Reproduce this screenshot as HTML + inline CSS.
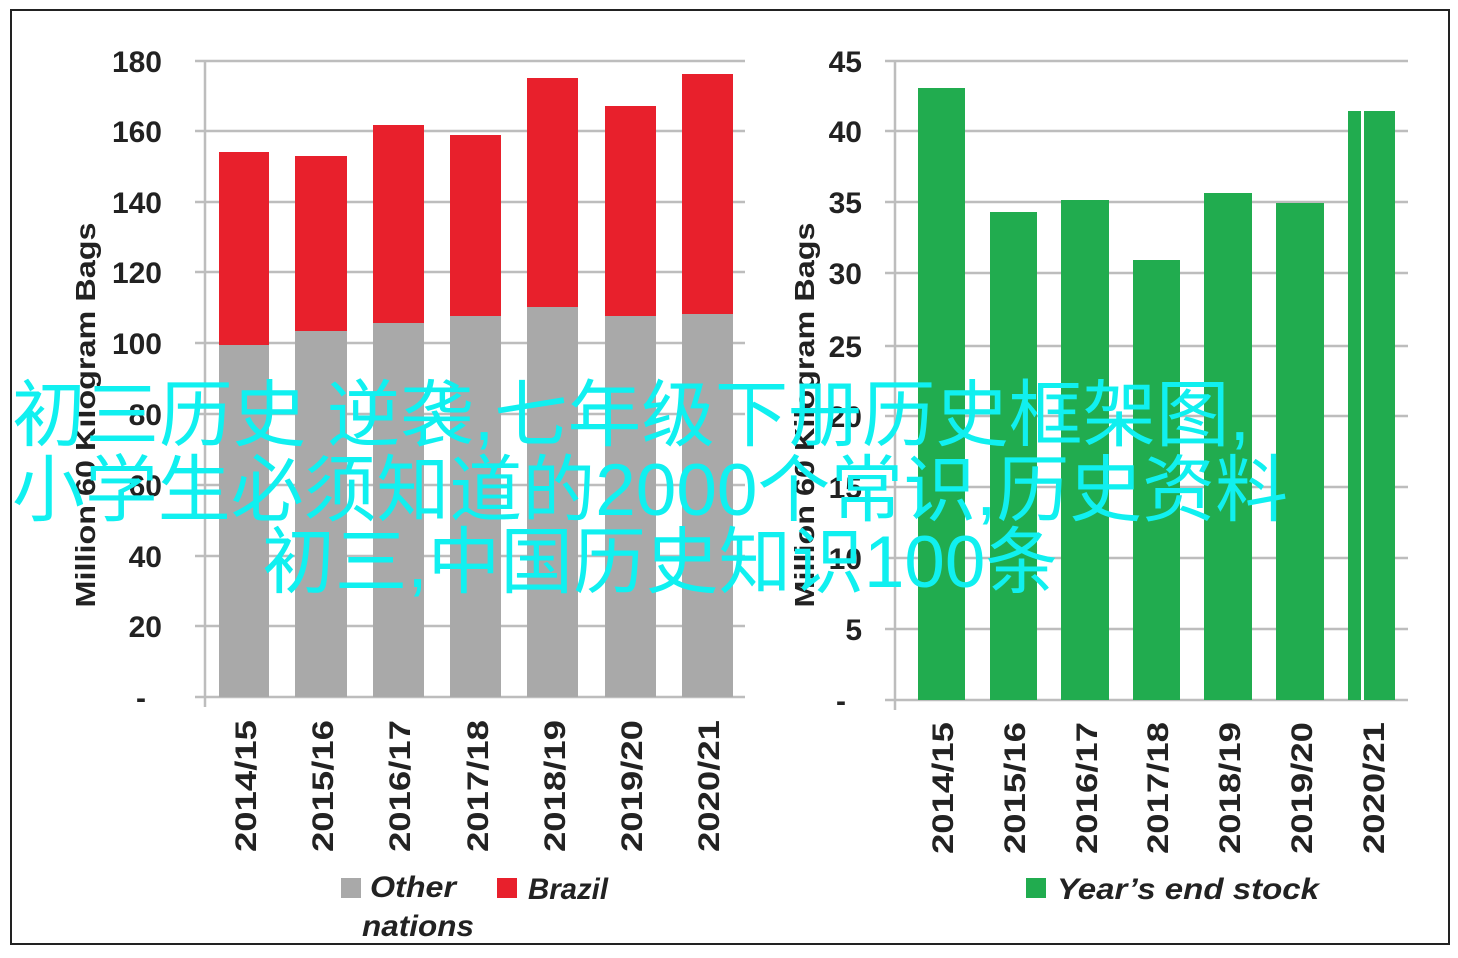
<!DOCTYPE html>
<html><head><meta charset="utf-8"><style>
html,body{margin:0;padding:0;background:#fff;}
svg{display:block;}
.t{font-family:"Liberation Sans","DejaVu Sans",sans-serif;font-weight:bold;fill:#222;}
.cj{font-family:"Liberation Sans","Noto Sans CJK SC",sans-serif;fill:#10f0f0;font-size:73px;}
</style></head><body>
<svg width="1458" height="958" viewBox="0 0 1458 958" xmlns="http://www.w3.org/2000/svg">
<rect x="0" y="0" width="1458" height="958" fill="#fff"/>
<rect x="11" y="10" width="1438" height="934" fill="none" stroke="#222" stroke-width="2"/>
<g stroke="#bdbdbd" stroke-width="2.5">
<line x1="195" y1="61" x2="745" y2="61"/><line x1="195" y1="131" x2="745" y2="131"/><line x1="195" y1="202" x2="745" y2="202"/><line x1="195" y1="272" x2="745" y2="272"/><line x1="195" y1="343" x2="745" y2="343"/><line x1="195" y1="414" x2="745" y2="414"/><line x1="195" y1="485" x2="745" y2="485"/><line x1="195" y1="556" x2="745" y2="556"/><line x1="195" y1="626" x2="745" y2="626"/><line x1="195" y1="697" x2="745" y2="697"/>
<line x1="205" y1="61" x2="205" y2="707"/>
<line x1="885" y1="61" x2="1408" y2="61"/><line x1="885" y1="131" x2="1408" y2="131"/><line x1="885" y1="202" x2="1408" y2="202"/><line x1="885" y1="273" x2="1408" y2="273"/><line x1="885" y1="346" x2="1408" y2="346"/><line x1="885" y1="416" x2="1408" y2="416"/><line x1="885" y1="487" x2="1408" y2="487"/><line x1="885" y1="558" x2="1408" y2="558"/><line x1="885" y1="629" x2="1408" y2="629"/><line x1="885" y1="700" x2="1408" y2="700"/>
<line x1="895" y1="61" x2="895" y2="710"/>
</g>
<g fill="#a9a9a9">
<rect x="219" y="345" width="50" height="352"/><rect x="295" y="331" width="52" height="366"/><rect x="373" y="323" width="51" height="374"/><rect x="450" y="316" width="51" height="381"/><rect x="527" y="307" width="51" height="390"/><rect x="605" y="316" width="51" height="381"/><rect x="682" y="314" width="51" height="383"/>
</g>
<g fill="#e8202c">
<rect x="219" y="152" width="50" height="193"/><rect x="295" y="156" width="52" height="175"/><rect x="373" y="125" width="51" height="198"/><rect x="450" y="135" width="51" height="181"/><rect x="527" y="78" width="51" height="229"/><rect x="605" y="106" width="51" height="210"/><rect x="682" y="74" width="51" height="240"/>
</g>
<g fill="#21ac4f">
<rect x="918" y="88" width="47" height="612"/><rect x="990" y="212" width="47" height="488"/><rect x="1061" y="200" width="48" height="500"/><rect x="1133" y="260" width="47" height="440"/><rect x="1204" y="193" width="48" height="507"/><rect x="1276" y="203" width="48" height="497"/><rect x="1348" y="111" width="47" height="589"/>
</g>
<rect x="1361" y="111" width="3" height="589" fill="#fff"/>
<g class="t" font-size="30" text-anchor="end">
<text x="162" y="72">180</text><text x="162" y="142">160</text><text x="162" y="213">140</text><text x="162" y="283">120</text><text x="162" y="354">100</text><text x="162" y="425">80</text><text x="162" y="496">60</text><text x="162" y="567">40</text><text x="162" y="637">20</text><text x="146" y="708">-</text>
<text x="862" y="72">45</text><text x="862" y="142">40</text><text x="862" y="213">35</text><text x="862" y="284">30</text><text x="862" y="357">25</text><text x="862" y="427">20</text><text x="862" y="498">15</text><text x="862" y="569">10</text><text x="862" y="640">5</text><text x="846" y="711">-</text>
</g>
<g class="t" font-size="28">
<text transform="translate(95,415) rotate(-90)" text-anchor="middle" textLength="385" lengthAdjust="spacingAndGlyphs">Million 60 Kilogram Bags</text>
<text transform="translate(814,415) rotate(-90)" text-anchor="middle" textLength="385" lengthAdjust="spacingAndGlyphs">Million 60 Kilogram Bags</text>
</g>
<g class="t" font-size="30" text-anchor="end">
<text transform="translate(256,720) rotate(-90)" textLength="132" lengthAdjust="spacingAndGlyphs">2014/15</text>
<text transform="translate(333,720) rotate(-90)" textLength="132" lengthAdjust="spacingAndGlyphs">2015/16</text>
<text transform="translate(410,720) rotate(-90)" textLength="132" lengthAdjust="spacingAndGlyphs">2016/17</text>
<text transform="translate(488,720) rotate(-90)" textLength="132" lengthAdjust="spacingAndGlyphs">2017/18</text>
<text transform="translate(565,720) rotate(-90)" textLength="132" lengthAdjust="spacingAndGlyphs">2018/19</text>
<text transform="translate(642,720) rotate(-90)" textLength="132" lengthAdjust="spacingAndGlyphs">2019/20</text>
<text transform="translate(719,720) rotate(-90)" textLength="132" lengthAdjust="spacingAndGlyphs">2020/21</text>
<text transform="translate(953,722) rotate(-90)" textLength="132" lengthAdjust="spacingAndGlyphs">2014/15</text>
<text transform="translate(1025,722) rotate(-90)" textLength="132" lengthAdjust="spacingAndGlyphs">2015/16</text>
<text transform="translate(1097,722) rotate(-90)" textLength="132" lengthAdjust="spacingAndGlyphs">2016/17</text>
<text transform="translate(1168,722) rotate(-90)" textLength="132" lengthAdjust="spacingAndGlyphs">2017/18</text>
<text transform="translate(1240,722) rotate(-90)" textLength="132" lengthAdjust="spacingAndGlyphs">2018/19</text>
<text transform="translate(1312,722) rotate(-90)" textLength="132" lengthAdjust="spacingAndGlyphs">2019/20</text>
<text transform="translate(1384,722) rotate(-90)" textLength="132" lengthAdjust="spacingAndGlyphs">2020/21</text>
</g>
<rect x="341" y="878" width="20" height="20" fill="#a9a9a9"/>
<rect x="497" y="878" width="20" height="20" fill="#e8202c"/>
<rect x="1026" y="878" width="20" height="20" fill="#21ac4f"/>
<g class="t" font-size="30" font-style="italic">
<text x="370" y="897" textLength="86" lengthAdjust="spacingAndGlyphs">Other</text><text x="362" y="936" textLength="112" lengthAdjust="spacingAndGlyphs">nations</text>
<text x="528" y="899" textLength="80" lengthAdjust="spacingAndGlyphs">Brazil</text>
<text x="1057" y="899" textLength="262" lengthAdjust="spacingAndGlyphs">Year’s end stock</text>
</g>
<g class="cj">
<text x="12" y="440" textLength="1238" lengthAdjust="spacingAndGlyphs">初三历史  逆袭,七年级下册历史框架图,</text>
<text x="12" y="515" textLength="1276" lengthAdjust="spacingAndGlyphs">小学生必须知道的2000个常识,历史资料</text>
<text x="262" y="587" textLength="796" lengthAdjust="spacingAndGlyphs">初三,中国历史知识100条</text>
</g>
</svg>
</body></html>
